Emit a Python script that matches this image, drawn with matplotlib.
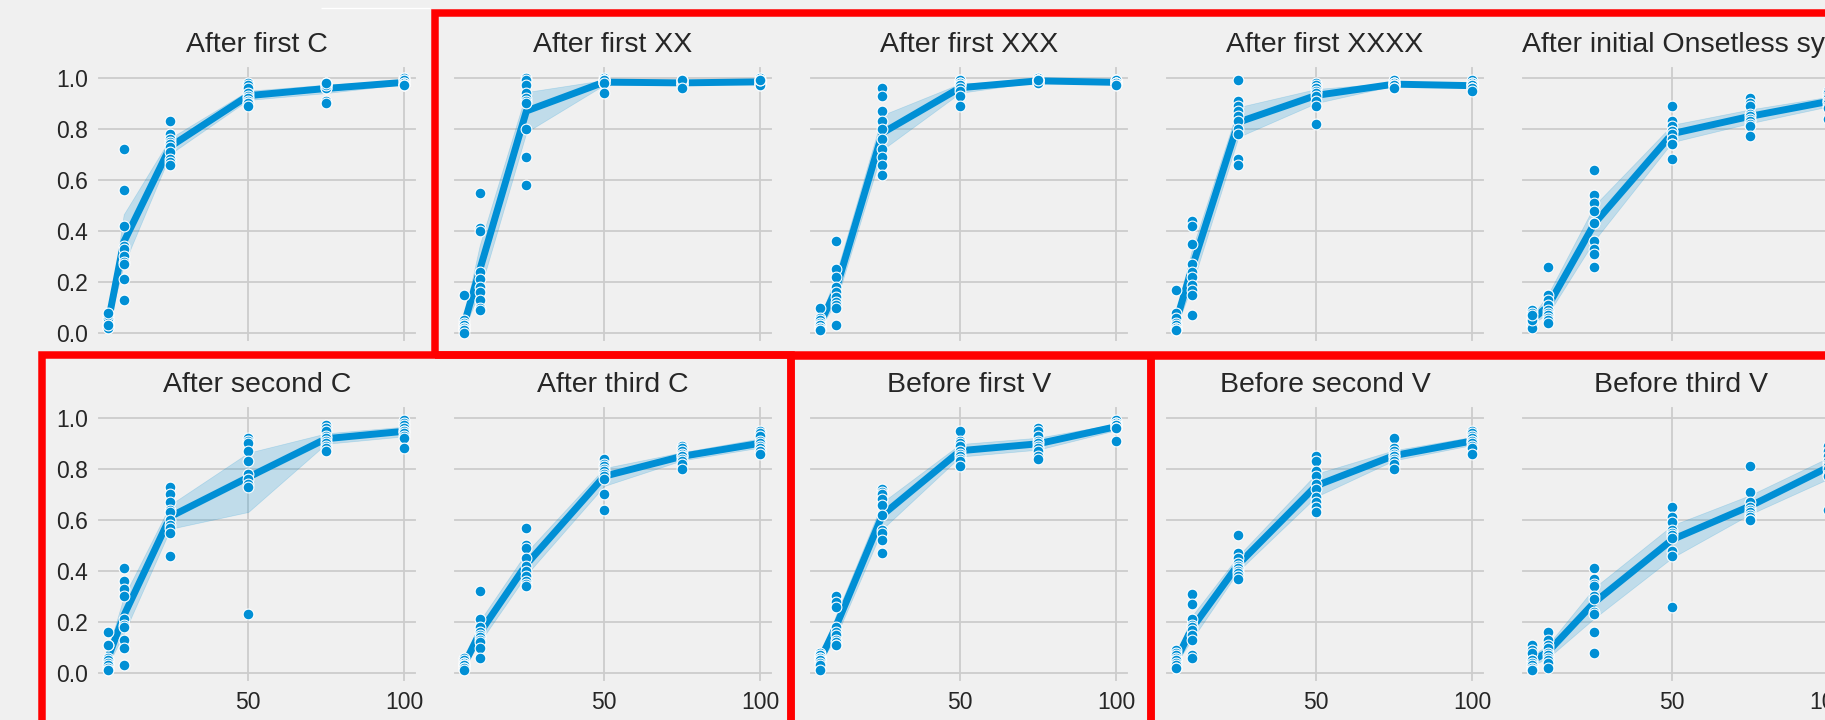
import numpy as np
import pandas as pd
import seaborn as sns
from matplotlib import pyplot as plt
from matplotlib.patches import Rectangle
from matplotlib.lines import Line2D

plt.style.use('fivethirtyeight')
plt.rcParams['font.family'] = ['Liberation Sans', 'DejaVu Sans']
plt.rcParams['text.color'] = '#262626'
plt.rcParams['xtick.color'] = '#262626'
plt.rcParams['ytick.color'] = '#262626'

x_levels = [5, 10, 25, 50, 75, 100]

titles = ['After first C', 'After first XX', 'After first XXX', 'After first XXXX',
          'After initial Onsetless syl.',
          'After second C', 'After third C', 'Before first V', 'Before second V',
          'Before third V']

# one list of scores per x level (10 runs each)
after_first_c = [
    [0.02, 0.03, 0.03, 0.04, 0.05, 0.06, 0.07, 0.08, 0.02, 0.03],
    [0.72, 0.56, 0.42, 0.34, 0.33, 0.30, 0.28, 0.27, 0.21, 0.13],
    [0.83, 0.78, 0.76, 0.75, 0.74, 0.73, 0.71, 0.68, 0.67, 0.66],
    [0.98, 0.97, 0.96, 0.94, 0.93, 0.92, 0.91, 0.90, 0.90, 0.89],
    [0.98, 0.98, 0.97, 0.97, 0.96, 0.96, 0.97, 0.98, 0.91, 0.90],
    [1.00, 1.00, 0.99, 0.99, 0.98, 0.98, 0.97, 0.97, 0.97, 0.97],
]
after_first_xx = [
    [0.15, 0.05, 0.04, 0.03, 0.03, 0.02, 0.02, 0.01, 0.01, 0.00],
    [0.55, 0.41, 0.40, 0.24, 0.21, 0.18, 0.16, 0.13, 0.10, 0.09],
    [1.00, 0.99, 0.97, 0.94, 0.92, 0.91, 0.90, 0.80, 0.69, 0.58],
    [1.00, 0.99, 0.99, 0.99, 0.99, 0.98, 0.98, 0.99, 0.98, 0.94],
    [0.99, 0.99, 0.98, 0.98, 0.98, 0.97, 0.97, 0.99, 0.99, 0.96],
    [1.00, 0.99, 0.99, 0.98, 0.98, 0.98, 0.97, 0.97, 0.99, 0.99],
]
after_first_xxx = [
    [0.10, 0.06, 0.05, 0.04, 0.03, 0.03, 0.02, 0.02, 0.01, 0.01],
    [0.36, 0.25, 0.22, 0.18, 0.16, 0.14, 0.12, 0.11, 0.10, 0.03],
    [0.96, 0.93, 0.87, 0.83, 0.80, 0.76, 0.72, 0.69, 0.66, 0.62],
    [0.99, 0.99, 0.98, 0.98, 0.97, 0.97, 0.96, 0.95, 0.93, 0.89],
    [1.00, 0.99, 0.99, 0.99, 0.99, 0.99, 0.98, 0.98, 0.98, 0.99],
    [0.99, 0.99, 0.99, 0.99, 0.98, 0.98, 0.98, 0.98, 0.97, 0.97],
]
after_first_xxxx = [
    [0.17, 0.08, 0.06, 0.04, 0.03, 0.02, 0.02, 0.01, 0.01, 0.01],
    [0.44, 0.42, 0.35, 0.27, 0.24, 0.22, 0.19, 0.17, 0.15, 0.07],
    [0.99, 0.91, 0.89, 0.87, 0.85, 0.83, 0.80, 0.78, 0.68, 0.66],
    [0.98, 0.97, 0.96, 0.96, 0.95, 0.94, 0.93, 0.91, 0.89, 0.82],
    [0.99, 0.99, 0.98, 0.98, 0.98, 0.97, 0.97, 0.97, 0.96, 0.96],
    [0.99, 0.98, 0.98, 0.97, 0.97, 0.97, 0.96, 0.96, 0.96, 0.95],
]
after_onsetless = [
    [0.09, 0.08, 0.06, 0.05, 0.04, 0.03, 0.03, 0.02, 0.05, 0.07],
    [0.26, 0.15, 0.13, 0.11, 0.09, 0.08, 0.07, 0.06, 0.05, 0.04],
    [0.64, 0.54, 0.51, 0.48, 0.43, 0.36, 0.33, 0.31, 0.26, 0.43],
    [0.89, 0.83, 0.81, 0.79, 0.79, 0.78, 0.76, 0.74, 0.74, 0.68],
    [0.92, 0.90, 0.89, 0.86, 0.85, 0.84, 0.83, 0.82, 0.81, 0.77],
    [0.95, 0.94, 0.93, 0.92, 0.91, 0.91, 0.90, 0.89, 0.88, 0.84],
]
after_second_c = [
    [0.16, 0.11, 0.11, 0.06, 0.05, 0.04, 0.03, 0.02, 0.01, 0.01],
    [0.41, 0.36, 0.33, 0.30, 0.21, 0.19, 0.18, 0.13, 0.10, 0.03],
    [0.73, 0.70, 0.67, 0.64, 0.63, 0.60, 0.58, 0.57, 0.55, 0.46],
    [0.92, 0.91, 0.90, 0.87, 0.83, 0.78, 0.76, 0.74, 0.73, 0.23],
    [0.97, 0.96, 0.95, 0.93, 0.92, 0.91, 0.90, 0.89, 0.88, 0.87],
    [0.99, 0.98, 0.97, 0.96, 0.95, 0.95, 0.94, 0.93, 0.92, 0.88],
]
after_third_c = [
    [0.06, 0.05, 0.04, 0.04, 0.03, 0.03, 0.03, 0.02, 0.02, 0.01],
    [0.32, 0.21, 0.18, 0.16, 0.15, 0.14, 0.13, 0.12, 0.10, 0.06],
    [0.57, 0.50, 0.49, 0.45, 0.42, 0.40, 0.38, 0.36, 0.35, 0.34],
    [0.84, 0.82, 0.81, 0.80, 0.79, 0.78, 0.77, 0.76, 0.70, 0.64],
    [0.89, 0.88, 0.87, 0.86, 0.85, 0.85, 0.84, 0.83, 0.82, 0.80],
    [0.95, 0.94, 0.93, 0.91, 0.90, 0.89, 0.88, 0.87, 0.87, 0.86],
]
before_first_v = [
    [0.08, 0.07, 0.07, 0.06, 0.06, 0.05, 0.05, 0.04, 0.03, 0.01],
    [0.30, 0.28, 0.26, 0.18, 0.16, 0.15, 0.13, 0.12, 0.11, 0.11],
    [0.72, 0.71, 0.70, 0.68, 0.66, 0.62, 0.56, 0.55, 0.52, 0.47],
    [0.95, 0.91, 0.90, 0.89, 0.87, 0.86, 0.85, 0.84, 0.83, 0.81],
    [0.96, 0.95, 0.93, 0.91, 0.90, 0.89, 0.88, 0.87, 0.85, 0.84],
    [0.99, 0.98, 0.98, 0.97, 0.97, 0.97, 0.96, 0.96, 0.96, 0.91],
]
before_second_v = [
    [0.09, 0.08, 0.07, 0.06, 0.05, 0.05, 0.04, 0.03, 0.02, 0.02],
    [0.31, 0.27, 0.21, 0.19, 0.18, 0.17, 0.15, 0.13, 0.07, 0.06],
    [0.54, 0.47, 0.45, 0.43, 0.42, 0.41, 0.40, 0.39, 0.38, 0.37],
    [0.85, 0.83, 0.79, 0.77, 0.74, 0.72, 0.69, 0.67, 0.65, 0.63],
    [0.92, 0.88, 0.87, 0.86, 0.85, 0.85, 0.84, 0.83, 0.82, 0.80],
    [0.95, 0.94, 0.93, 0.92, 0.91, 0.91, 0.90, 0.89, 0.88, 0.86],
]
before_third_v = [
    [0.11, 0.09, 0.08, 0.05, 0.05, 0.04, 0.03, 0.02, 0.01, 0.01],
    [0.16, 0.13, 0.11, 0.10, 0.08, 0.07, 0.06, 0.05, 0.04, 0.02],
    [0.41, 0.37, 0.35, 0.34, 0.30, 0.29, 0.24, 0.23, 0.16, 0.08],
    [0.65, 0.61, 0.59, 0.56, 0.55, 0.54, 0.53, 0.48, 0.46, 0.26],
    [0.81, 0.71, 0.67, 0.65, 0.64, 0.63, 0.62, 0.61, 0.60, 0.60],
    [0.89, 0.87, 0.85, 0.83, 0.82, 0.81, 0.80, 0.78, 0.77, 0.64],
]

panels = [after_first_c, after_first_xx, after_first_xxx, after_first_xxxx, after_onsetless,
          after_second_c, after_third_c, before_first_v, before_second_v, before_third_v]

blue = '#008fd5'
W, H = 1825, 720

fig, axes = plt.subplots(2, 5, sharex=True, sharey=True, figsize=(W / 100, H / 100), dpi=100)
fig.patch.set_facecolor('#f0f0f0')

for i, ax in enumerate(axes.flat):
    row, col = divmod(i, 5)
    left = 96 + 356 * col
    top = 65 + 340 * row
    ax.set_position([left / W, 1 - (top + 278) / H, 322 / W, 278 / H])

    rows = [(x, v) for x, vals in zip(x_levels, panels[i]) for v in vals]
    df = pd.DataFrame(rows, columns=['x', 'score'])
    sns.lineplot(data=df, x='x', y='score', ax=ax, color=blue, linewidth=5,
                 errorbar=('ci', 95), seed=0)
    sns.scatterplot(data=df, x='x', y='score', ax=ax, color=blue, s=60,
                    edgecolor='white', linewidth=0.8, zorder=3)
    ax.set_title(titles[i], fontsize=20.5, color='#262626', pad=9)
    ax.set_xlabel('')
    ax.set_ylabel('')

ax = axes[0, 0]
ax.set_xticks([50, 100])
ax.set_yticks([0.0, 0.2, 0.4, 0.6, 0.8, 1.0])
ax.set_xlim(1.1, 104.5)
ax.set_ylim(-0.039, 1.05)
for a in axes.flat:
    a.tick_params(labelsize=16.5, pad=6)
    a.grid(True, color='#cccccc', linewidth=1.3)

# red group frames drawn in pixel space of the figure
def frame(x0, y0, x1, y1):
    r = Rectangle((x0 / W, 1 - y1 / H), (x1 - x0) / W, (y1 - y0) / H,
                  transform=fig.transFigure, fill=False, edgecolor='#ff0000',
                  linewidth=5.4, clip_on=False, zorder=10)
    fig.patches.append(r)

frame(434.5, 13, 1900, 354.5)
frame(41.5, 354.5, 791, 724)
frame(791, 355.5, 1151, 724)
frame(1151, 355.5, 1900, 724)

fig.lines.append(Line2D([321 / W, 430 / W], [1 - 8 / H, 1 - 8 / H], transform=fig.transFigure,
                        color='white', linewidth=1))

fig.savefig('out.png', dpi=100, facecolor=fig.get_facecolor())
